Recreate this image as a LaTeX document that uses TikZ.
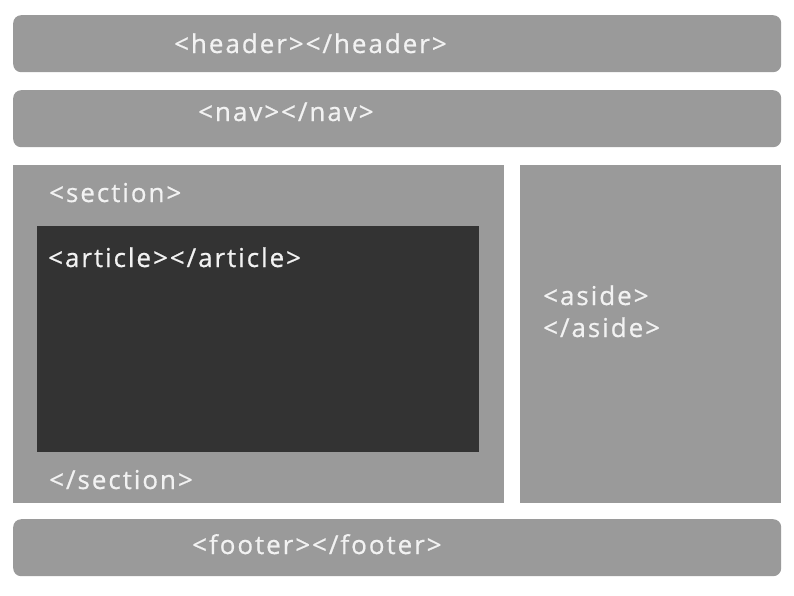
\documentclass[tikz,border=0pt]{standalone}
\usepackage{fontspec}
\setmainfont{Open Sans}[LetterSpace=7.5, FakeBold=0.6]
\usetikzlibrary{positioning}
\definecolor{boxgray}{HTML}{9A9A9A}
\definecolor{articlegray}{HTML}{333333}
\definecolor{tagwhite}{HTML}{F2F2F2}
\tikzset{
  bar/.style={fill=boxgray, rounded corners=8pt, minimum width=768pt, minimum height=57pt, inner sep=0pt, anchor=north west},
  block/.style={fill=boxgray, inner sep=0pt, anchor=north west},
  tag/.style={text=tagwhite, anchor=base west, inner sep=0pt, font=\fontsize{26}{32}\selectfont}
}
\begin{document}
\begin{tikzpicture}[x=1pt, y=-1pt]
\useasboundingbox (0,0) rectangle (794,595);
% boxes
\node[bar] (header) at (13,15) {};
\node[bar] (nav) at (13,90) {};
\node[block, minimum width=491pt, minimum height=338pt] (section) at (13,165) {};
\node[fill=articlegray, inner sep=0pt, anchor=north west, minimum width=442pt, minimum height=226pt] (article) at (37,226) {};
\node[block, minimum width=261pt, minimum height=338pt] (aside) at (520,165) {};
\node[bar] (footer) at (13,519) {};
% tags
\node[tag] (headertag) at (174,53) {<header></header>};
\node[tag] (navtag) at (198,121) {<nav></nav>};
\node[tag] (sectionopen) at (49,202) {<section>};
\node[tag] (articletag) at (48,267) {<article></article>};
\node[tag] (sectionclose) at (49,489) {</section>};
\node[tag] (asideopen) at (543,305) {<aside>};
\node[tag] (asideclose) at ([yshift=-32pt]asideopen.base west) {</aside>};
\node[tag] (footertag) at (192,554) {<footer></footer>};
\end{tikzpicture}
\end{document}
